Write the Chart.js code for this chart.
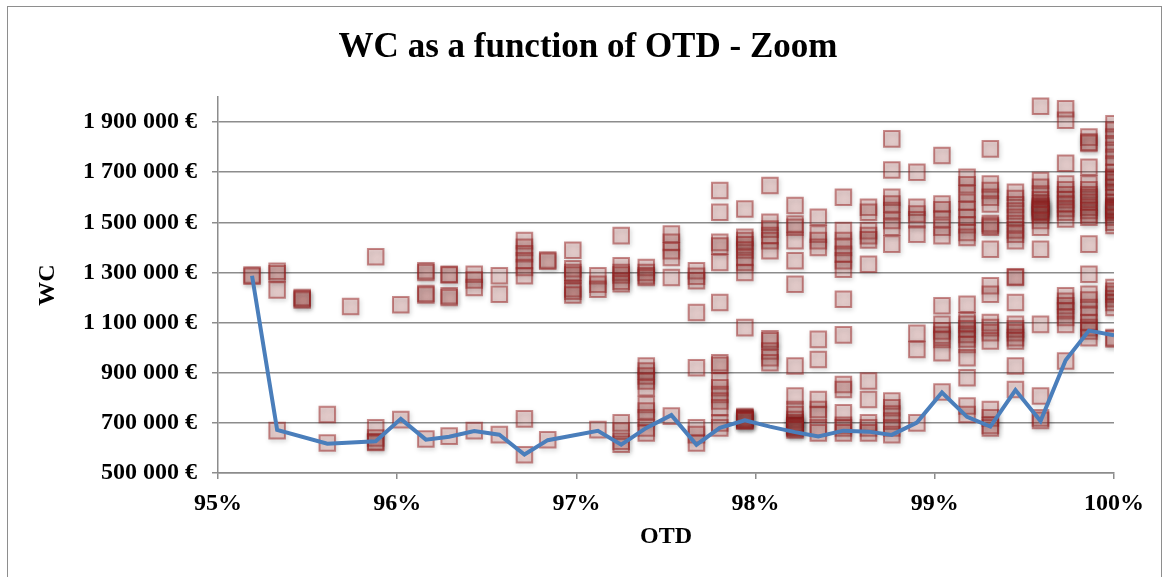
<!DOCTYPE html>
<html>
<head>
<meta charset="utf-8">
<title>WC as a function of OTD - Zoom</title>
<script src="https://cdn.jsdelivr.net/npm/chart.js@4/dist/chart.umd.min.js"></script>
<style>
    body { margin: 0; background: #fff; }
    #wrap { position: relative; width: 1167px; height: 577px; overflow: hidden; }
    #frame { position: absolute; left: 7px; top: 6px; width: 1153px; height: 600px; border: 1.5px solid #8e8e8e; }
    #otdChart { position: absolute; left: 0; top: 0; }
</style>
</head>
<body>
<div id="wrap">
    <div id="frame"></div>
    <canvas id="otdChart" width="1167" height="577"></canvas>
</div>
<script>
const chartTitle = "WC as a function of OTD - Zoom";

// OTD columns (%) and the WC of every scenario simulated at that OTD
const otdColumns = [
    95.19, 95.33, 95.47, 95.61, 95.74, 95.88, 96.02, 96.16, 96.29, 96.43,
    96.57, 96.71, 96.84, 96.98, 97.12, 97.25, 97.39, 97.53, 97.67, 97.80,
    97.94, 98.08, 98.22, 98.35, 98.49, 98.63, 98.76, 98.90, 99.04, 99.18,
    99.31, 99.45, 99.59, 99.73, 99.86, 100.00
];

const wcByColumn = [
    [1290000, 1285000],
    [1305000, 1295000, 1230000, 669000],
    [1200000, 1190000, 1195000],
    [733000, 620000],
    [1164000],
    [1363000, 680000, 640000, 625000, 622000],
    [1171000, 713000],
    [1307000, 1300000, 1216000, 1210000, 636000],
    [1293000, 1290000, 1207000, 1200000, 647000],
    [1293000, 1270000, 1240000, 669000],
    [1287000, 1213000, 653000],
    [1427000, 1400000, 1375000, 1347000, 1320000, 1287000, 716000, 573000],
    [1350000, 1345000, 633000],
    [1389000, 1315000, 1300000, 1290000, 1235000, 1225000, 1210000],
    [1287000, 1253000, 1233000, 673000],
    [1447000, 1327000, 1300000, 1290000, 1265000, 1255000, 700000, 667000, 627000, 615000],
    [1320000, 1300000, 1287000, 1280000, 927000, 907000, 887000, 867000, 840000, 773000, 747000, 720000, 680000, 660000],
    [1453000, 1420000, 1387000, 1360000, 1280000, 727000],
    [1307000, 1285000, 1267000, 1140000, 920000, 680000, 653000, 620000],
    [1627000, 1540000, 1420000, 1405000, 1340000, 1180000, 940000, 930000, 867000, 840000, 813000, 787000, 760000, 700000, 680000],
    [1553000, 1440000, 1427000, 1410000, 1390000, 1360000, 1340000, 1300000, 1080000, 725000, 720000, 718000, 715000, 712000, 710000, 708000],
    [1647000, 1500000, 1473000, 1447000, 1427000, 1387000, 1035000, 1027000, 987000, 960000, 940000],
    [1567000, 1493000, 1480000, 1427000, 1347000, 1253000, 927000, 807000, 753000, 733000, 713000, 700000, 690000, 688000, 685000, 682000, 678000, 672000],
    [1520000, 1453000, 1427000, 1400000, 1033000, 953000, 793000, 753000, 733000, 680000, 660000],
    [1600000, 1467000, 1427000, 1400000, 1373000, 1347000, 1313000, 1193000, 1051000, 853000, 833000, 740000, 690000, 680000, 660000],
    [1560000, 1540000, 1467000, 1447000, 1430000, 1333000, 867000, 793000, 700000, 680000, 660000],
    [1833000, 1709000, 1600000, 1573000, 1547000, 1507000, 1480000, 1413000, 787000, 760000, 735000, 707000, 680000, 653000],
    [1700000, 1560000, 1533000, 1510000, 1453000, 1057000, 993000, 700000],
    [1767000, 1573000, 1550000, 1513000, 1480000, 1447000, 1167000, 1093000, 1067000, 1050000, 1033000, 980000, 823000],
    [1680000, 1650000, 1615000, 1580000, 1550000, 1520000, 1490000, 1460000, 1440000, 1173000, 1107000, 1093000, 1075000, 1053000, 1035000, 1013000, 960000, 880000, 767000, 733000],
    [1793000, 1653000, 1627000, 1600000, 1573000, 1495000, 1487000, 1480000, 1393000, 1247000, 1213000, 1100000, 1080000, 1060000, 1027000, 753000, 720000, 690000, 680000],
    [1620000, 1595000, 1570000, 1545000, 1520000, 1495000, 1470000, 1453000, 1427000, 1283000, 1280000, 1180000, 1093000, 1075000, 1060000, 1040000, 1027000, 927000, 833000],
    [1963000, 1667000, 1640000, 1613000, 1590000, 1573000, 1565000, 1560000, 1555000, 1550000, 1545000, 1540000, 1530000, 1507000, 1480000, 1393000, 1093000, 807000, 720000, 710000],
    [1953000, 1907000, 1736000, 1653000, 1630000, 1610000, 1590000, 1573000, 1555000, 1540000, 1513000, 1207000, 1185000, 1167000, 1147000, 1120000, 1093000, 947000],
    [1840000, 1820000, 1815000, 1720000, 1653000, 1630000, 1610000, 1600000, 1580000, 1560000, 1547000, 1530000, 1520000, 1413000, 1293000, 1213000, 1190000, 1160000, 1133000, 1100000, 1080000, 1067000, 1040000],
    [1893000, 1867000, 1840000, 1813000, 1787000, 1760000, 1733000, 1700000, 1680000, 1673000, 1660000, 1640000, 1620000, 1600000, 1580000, 1565000, 1560000, 1555000, 1550000, 1547000, 1540000, 1520000, 1500000, 1487000, 1240000, 1225000, 1213000, 1195000, 1180000, 1160000, 1040000, 1035000]
];

// lowest-WC curve
const frontierOtd = [
    95.19, 95.33, 95.61, 95.88, 96.02, 96.16, 96.29, 96.43, 96.57, 96.71,
    96.84, 97.12, 97.25, 97.39, 97.53, 97.67, 97.80, 97.94, 98.08, 98.22,
    98.35, 98.49, 98.63, 98.76, 98.90, 99.04, 99.18, 99.31, 99.45, 99.59,
    99.73, 99.86, 100.00
];
const frontierWc = [
    1287000, 672000, 617000, 627000, 716000, 633000, 645000, 667000, 653000, 574000,
    631000, 668000, 613000, 680000, 731000, 613000, 680000, 710000, 685000, 663000,
    646000, 669000, 665000, 652000, 701000, 821000, 724000, 685000, 831000, 707000,
    950000, 1068000, 1049000
];

const otdTicks = [95, 96, 97, 98, 99, 100];
const wcTicks = [500000, 700000, 900000, 1100000, 1300000, 1500000, 1700000, 1900000];

const serif = '"Liberation Serif", "Times New Roman", serif';
const axisGrey = '#8c8c8c';

const scenarioPoints = otdColumns.flatMap((otd, i) =>
    wcByColumn[i].map(wc => ({ x: otd, y: wc }))
);
const frontierPoints = frontierOtd.map((otd, i) => ({ x: otd, y: frontierWc[i] }));

function euro(value) {
    return String(value).replace(/\B(?=(\d{3})+(?!\d))/g, " ") + " €";
}

// soft drop shadow under the square markers
const markerShadow = {
    id: "markerShadow",
    beforeDatasetDraw(chart, args) {
        if (args.index !== 1) return;
        const ctx = chart.ctx;
        ctx.save();
        ctx.shadowColor = "rgba(0, 0, 0, 0.4)";
        ctx.shadowBlur = 5;
        ctx.shadowOffsetX = 1;
        ctx.shadowOffsetY = 2;
    },
    afterDatasetDraw(chart, args) {
        if (args.index === 1) chart.ctx.restore();
    },
};

const titleDraw = {
    id: "titleDraw",
    afterDraw(chart) {
        const ctx = chart.ctx;
        ctx.save();
        ctx.font = "bold 35px " + serif;
        ctx.fillStyle = "#000";
        ctx.textAlign = "center";
        ctx.textBaseline = "middle";
        ctx.fillText(chartTitle, 588, 48);
        ctx.restore();
    },
};

document.addEventListener("DOMContentLoaded", () => {
    const ctx = document.getElementById("otdChart").getContext("2d");

    new Chart(ctx, {
        data: {
            datasets: [
                {
                    type: "line",
                    label: "Min WC",
                    data: frontierPoints,
                    borderColor: "#4a7ebb",
                    borderWidth: 4,
                    pointRadius: 0,
                    tension: 0,
                    fill: false,
                    order: 0,
                },
                {
                    type: "scatter",
                    label: "Scenarios",
                    data: scenarioPoints,
                    pointStyle: "rect",
                    pointRadius: 11,
                    backgroundColor: "rgba(192, 80, 77, 0.22)",
                    borderColor: "rgba(150, 30, 30, 0.5)",
                    borderWidth: 2,
                    order: 1,
                },
            ],
        },
        options: {
            responsive: false,
            animation: false,
            layout: { padding: { left: 30, right: 53, top: 97, bottom: 17 } },
            plugins: {
                legend: { display: false },
                tooltip: { enabled: false },
            },
            scales: {
                x: {
                    type: "linear",
                    min: 95,
                    max: 100,
                    afterBuildTicks: axis => { axis.ticks = otdTicks.map(v => ({ value: v })); },
                    afterFit: scale => { scale.height = 87; },
                    grid: { drawOnChartArea: false, tickLength: 6, color: axisGrey, lineWidth: 1.5 },
                    border: { color: axisGrey, width: 1.5 },
                    ticks: {
                        padding: 10,
                        color: "#000",
                        font: { family: serif, size: 24, weight: "bold" },
                        callback: v => v + "%",
                    },
                    title: {
                        display: true,
                        text: "OTD",
                        color: "#000",
                        font: { family: serif, size: 24, weight: "bold" },
                        padding: { bottom: 9 },
                    },
                },
                y: {
                    type: "linear",
                    min: 500000,
                    max: 2000000,
                    afterBuildTicks: axis => { axis.ticks = wcTicks.map(v => ({ value: v })); },
                    afterFit: scale => { scale.width = 188; },
                    grid: { tickLength: 6, color: axisGrey, lineWidth: 1.5 },
                    border: { color: axisGrey, width: 1.5 },
                    ticks: {
                        padding: 15,
                        color: "#000",
                        font: { family: serif, size: 24, weight: "bold" },
                        callback: euro,
                    },
                    title: {
                        display: true,
                        text: "WC",
                        color: "#000",
                        font: { family: serif, size: 24, weight: "bold" },
                        padding: { top: 3 },
                    },
                },
            },
        },
        plugins: [markerShadow, titleDraw],
    });
});
</script>
</body>
</html>
